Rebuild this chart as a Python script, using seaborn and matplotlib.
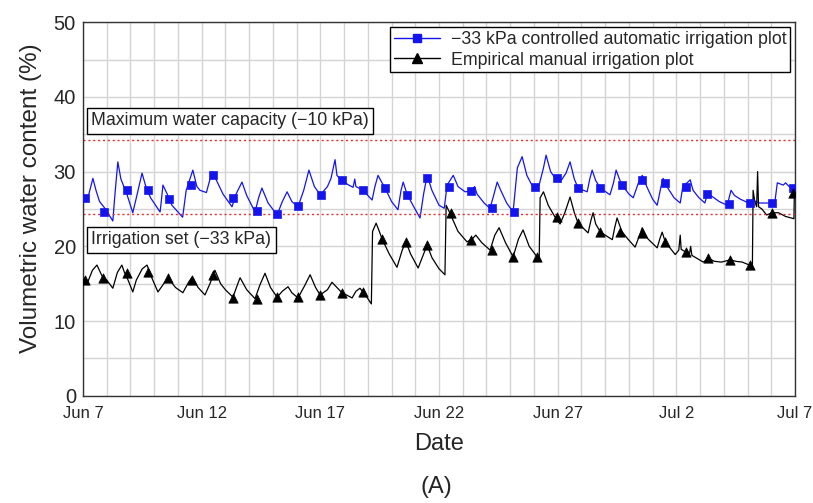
import matplotlib
matplotlib.use("Agg")
import matplotlib.pyplot as plt
import matplotlib.dates as mdates
from matplotlib.lines import Line2D
import seaborn as sns
import pandas as pd

# days after Jun 7 and volumetric water content (%)
auto_day = [0.0, 0.25, 0.42, 0.55, 0.7, 0.9, 1.26, 1.35, 1.47, 1.6, 1.85, 2.1, 2.25, 2.49, 2.65, 2.85,
            3.25, 3.3, 3.37, 3.55, 3.75, 4.2, 4.35, 4.63, 4.8, 4.93, 5.2, 5.44, 5.6, 5.9, 6.28, 6.45,
            6.7, 6.9, 7.25, 7.4, 7.54, 7.8, 8.18, 8.4, 8.6, 8.8, 9.06, 9.3, 9.52, 9.75, 10.0, 10.3,
            10.45, 10.62, 10.7, 10.9, 11.2, 11.38, 11.45, 11.5, 11.8, 12.18, 12.3, 12.43, 12.6, 12.73,
            13.0, 13.27, 13.4, 13.49, 13.65, 13.9, 14.2, 14.35, 14.5, 14.7, 15.0, 15.22, 15.34, 15.6,
            15.8, 16.1, 16.35, 16.5, 16.6, 16.9, 17.15, 17.3, 17.45, 17.6, 17.85, 18.12, 18.3, 18.5,
            18.7, 18.96, 19.2, 19.4, 19.51, 19.7, 19.9, 20.1, 20.35, 20.52, 20.7, 20.86, 21.24, 21.35,
            21.45, 21.6, 21.8, 22.2, 22.35, 22.46, 22.6, 22.71, 23.0, 23.18, 23.4, 23.56, 23.75, 24.0,
            24.19, 24.35, 24.44, 24.6, 24.9, 25.16, 25.28, 25.45, 25.58, 25.7, 25.95, 26.2, 26.3, 26.45,
            26.8, 27.14, 27.3, 27.45, 27.7, 27.98, 28.2, 28.5, 29.03, 29.15, 29.25, 29.5, 29.6, 29.75,
            29.9, 30.0]
auto_vwc = [25.8, 27.0, 29.1, 27.5, 26.0, 25.2, 23.4, 27.0, 31.3, 29.0, 27.0, 24.5, 26.5, 29.8, 28.0, 26.5,
            24.6, 26.0, 28.2, 27.0, 25.5, 23.9, 27.5, 30.2, 28.0, 27.5, 27.2, 30.0, 29.0, 27.0, 25.3, 27.0,
            28.6, 26.8, 24.6, 26.5, 27.8, 25.8, 24.2, 26.0, 27.3, 26.0, 25.3, 27.5, 30.2, 28.0, 26.9, 28.0,
            29.1, 31.6, 29.5, 28.8, 28.2, 27.9, 29.0, 28.0, 27.5, 26.2, 28.0, 29.5, 28.5, 27.8,
            26.0, 24.9, 27.5, 28.6, 27.0, 25.5, 23.8, 27.0, 29.5, 27.5, 25.5, 25.1, 28.2, 29.5,
            28.0, 27.3, 27.4, 28.0, 27.0, 25.8, 25.1, 26.8, 28.6, 27.5, 25.8, 24.6, 30.5, 32.0,
            29.5, 27.9, 28.0, 30.5, 32.2, 30.0, 29.1, 28.6, 29.8, 31.3, 29.0, 27.8, 27.3, 29.0,
            30.2, 28.8, 27.8, 26.9, 28.5, 30.2, 29.0, 28.2, 27.0, 26.5, 28.5, 29.5, 28.0, 26.3,
            25.5, 28.0, 29.1, 28.0, 26.5, 25.8, 28.2, 28.5, 28.9, 27.5, 26.5, 25.8, 27.0, 26.8,
            26.0, 25.5, 27.5, 26.8, 26.3, 25.9, 26.2, 25.8, 25.8, 26.0, 28.5, 28.2, 28.5, 28.0,
            27.8, 27.5]
auto_mark_day = [0.08, 0.88, 1.85, 2.74, 3.62, 4.55, 5.5, 6.32, 7.33, 8.18, 9.06, 10.03, 10.91, 11.8,
                 12.73, 13.65, 14.5, 15.4, 16.35, 17.24, 18.16, 19.05, 19.97, 20.86, 21.79, 22.71,
                 23.56, 24.53, 25.41, 26.3, 27.22, 28.11, 29.03, 29.9]
auto_mark_vwc = [26.5, 24.6, 27.5, 27.5, 26.3, 28.2, 29.5, 26.5, 24.7, 24.3, 25.4, 26.9, 28.9, 27.5,
                 27.8, 26.9, 29.1, 28.0, 27.4, 25.1, 24.6, 27.9, 29.1, 27.8, 27.8, 28.2,
                 28.9, 28.5, 27.9, 27.0, 25.7, 25.8, 25.8, 27.8]

manual_day = [0.0, 0.2, 0.4, 0.59, 0.84, 1.0, 1.26, 1.45, 1.64, 1.75, 1.9, 2.1, 2.25, 2.5, 2.7, 2.9,
              3.16, 3.4, 3.58, 3.9, 4.21, 4.45, 4.6, 4.85, 5.14, 5.35, 5.56, 5.8, 6.0, 6.32, 6.5, 6.62,
              6.9, 7.25, 7.45, 7.67, 7.9, 8.18, 8.4, 8.64, 8.8, 9.06, 9.35, 9.57, 9.8, 9.99, 10.3, 10.49,
              10.7, 10.91, 11.1, 11.34, 11.5, 11.67, 11.9, 12.15, 12.2, 12.35, 12.45, 12.6, 12.9, 13.23,
              13.45, 13.61, 13.8, 14.12, 14.35, 14.5, 14.7, 15.0, 15.25, 15.3, 15.45, 15.8, 16.18, 16.4,
              16.55, 16.8, 17.15, 17.35, 17.53, 17.8, 18.12, 18.35, 18.54, 18.8, 19.13, 19.22, 19.26, 19.4,
              19.6, 19.89, 20.1, 20.3, 20.52, 20.7, 20.86, 21.28, 21.4, 21.49, 21.6, 21.8, 22.3, 22.4,
              22.5, 22.7, 22.95, 23.26, 23.45, 23.56, 23.8, 24.19, 24.3, 24.4, 24.53, 24.95, 25.1, 25.16,
              25.2, 25.37, 25.55, 25.6, 25.65, 26.13, 26.34, 26.6, 26.9, 27.27, 27.5, 27.77, 28.0, 28.11,
              28.2, 28.23, 28.3, 28.38, 28.42, 28.46, 28.6, 28.8, 29.03, 29.3, 29.6, 29.95, 29.97, 30.0]
manual_vwc = [15.9, 15.2, 16.8, 17.5, 15.8, 15.5, 14.4, 16.5, 17.5, 16.5, 15.5, 13.9, 15.5, 17.0, 17.5, 15.8,
              13.9, 15.0, 15.8, 14.5, 13.8, 15.2, 15.9, 14.5, 13.5, 15.0, 16.8, 15.0, 14.2, 13.2, 14.8, 15.8,
              14.2, 13.0, 14.8, 16.4, 14.5, 13.2, 14.0, 14.6, 13.8, 13.1, 14.8, 16.2, 14.5, 13.5, 14.2, 15.2,
              14.5, 13.8, 13.5, 13.1, 14.0, 14.4, 13.5, 12.3, 22.0, 23.1, 22.3, 21.0, 19.0, 17.2,
              19.5, 20.6, 19.0, 17.1, 19.0, 20.2, 18.5, 17.0, 16.2, 25.5, 24.5, 22.0, 20.6, 21.0,
              21.5, 20.5, 19.5, 21.5, 22.5, 20.5, 18.6, 21.0, 22.2, 20.0, 18.6, 18.5, 26.5, 27.3,
              25.5, 23.9, 23.0, 24.5, 26.6, 24.5, 23.1, 21.8, 23.5, 24.5, 23.0, 21.9, 20.9, 22.5,
              23.8, 22.0, 21.0, 19.9, 21.5, 22.5, 21.0, 19.8, 21.0, 21.9, 20.6, 18.9, 19.5, 21.5,
              19.6, 19.3, 19.0, 20.0, 18.8, 17.9, 18.4, 18.0, 17.9, 18.2, 18.0, 17.9, 17.6, 17.5,
              17.3, 27.5, 26.0, 25.3, 30.0, 25.3, 25.0, 24.2, 24.5, 24.5, 24.0, 23.7, 27.5, 28.0]
manual_mark_day = [0.1, 0.84, 1.85, 2.74, 3.58, 4.6, 5.5, 6.32, 7.33, 8.18, 9.06, 9.99, 10.91, 11.8,
                   12.6, 13.61, 14.5, 15.5, 16.35, 17.24, 18.12, 19.13, 19.97, 20.86, 21.8, 22.63,
                   23.56, 24.53, 25.41, 26.34, 27.27, 28.11, 29.03, 29.9]
manual_mark_vwc = [15.5, 15.8, 16.4, 16.6, 15.8, 15.5, 16.2, 13.1, 13.0, 13.2, 13.2, 13.5, 13.8, 13.9,
                   21.0, 20.6, 20.2, 24.5, 20.9, 19.5, 18.6, 18.6, 23.9, 23.1, 21.9, 21.9,
                   21.8, 20.6, 19.3, 18.4, 18.2, 17.5, 24.5, 27.1]

max_capacity = 34.2
irrigation_set = 24.3
tick_labels = ["Jun 7", "Jun 12", "Jun 17", "Jun 22", "Jun 27", "Jul 2", "Jul 7"]
legend_labels = ["\u221233 kPa controlled automatic irrigation plot", "Empirical manual irrigation plot"]

start = pd.Timestamp("2021-06-07")
def to_date(days):
    return start + pd.to_timedelta(days, unit="D")

auto = pd.DataFrame({"date": to_date(auto_day), "vwc": auto_vwc})
manual = pd.DataFrame({"date": to_date(manual_day), "vwc": manual_vwc})
auto_m = pd.DataFrame({"date": to_date(auto_mark_day), "vwc": auto_mark_vwc})
manual_m = pd.DataFrame({"date": to_date(manual_mark_day), "vwc": manual_mark_vwc})

sns.set_style("white")
plt.rcParams['font.family'] = ['Liberation Sans', 'DejaVu Sans']

blue = "#1414ee"
fig = plt.figure(figsize=(8.13, 5.03), dpi=100)
ax = fig.add_axes([0.102, 0.213, 0.876, 0.743])

sns.lineplot(data=auto, x="date", y="vwc", ax=ax, color=blue, lw=0.9, estimator=None, sort=False)
sns.lineplot(data=manual, x="date", y="vwc", ax=ax, color="black", lw=0.9, estimator=None, sort=False)
sns.scatterplot(data=auto_m, x="date", y="vwc", ax=ax, color=blue, marker="s", s=36, edgecolor=blue, zorder=5)
sns.scatterplot(data=manual_m, x="date", y="vwc", ax=ax, color="black", marker="^", s=45, edgecolor="black", zorder=5)

ax.axhline(max_capacity, color="#e03030", lw=1, ls=(0, (1.5, 2)))
ax.axhline(irrigation_set, color="#e03030", lw=1, ls=(0, (1.5, 2)))

ax.set_xlim(to_date(0), to_date(30))
ax.set_ylim(0, 50)
ax.set_xticks(to_date([0, 5, 10, 15, 20, 25, 30]))
ax.set_xticklabels(tick_labels, fontsize=12)
ax.xaxis.set_minor_locator(mdates.DayLocator())
ax.set_yticks([0, 10, 20, 30, 40, 50])
ax.set_yticks([5, 15, 25, 35, 45], minor=True)
ax.tick_params(axis="y", labelsize=14.5, direction="in", length=5, which="both", pad=5)
ax.tick_params(axis="x", direction="in", which="major", length=5, pad=7)
ax.tick_params(axis="x", direction="in", which="minor", length=4)
ax.grid(True, which="both", color="#d4d4d4", lw=1)
for s in ax.spines.values():
    s.set_color("#333333")
    s.set_linewidth(1)

ax.set_xlabel("Date", fontsize=17, labelpad=9)
ax.set_ylabel("Volumetric water content (%)", fontsize=17.5)
ax.yaxis.set_label_coords(-0.057, 0.53)
fig.text(0.537, 0.02, "(A)", fontsize=17, ha="center")

box = dict(boxstyle="square,pad=0.25", fc="white", ec="black", lw=1)
ax.text(to_date(0.35), 36.8, "Maximum water capacity (\u221210 kPa)", fontsize=12.8, va="center", bbox=box)
ax.text(to_date(0.35), 20.9, "Irrigation set (\u221233 kPa)", fontsize=12.8, va="center", bbox=box)

handles = [Line2D([], [], color=blue, lw=1, marker="s", markersize=6),
           Line2D([], [], color="black", lw=1, marker="^", markersize=7)]
leg = ax.legend(handles, legend_labels, loc="upper right", fontsize=12.8, frameon=True, fancybox=False,
                borderaxespad=0.3, handlelength=2.6, borderpad=0.2, labelspacing=0.2, handletextpad=0.6)
leg.get_frame().set_edgecolor("black")
leg.get_frame().set_alpha(1)

fig.savefig("out.png", dpi=100)
